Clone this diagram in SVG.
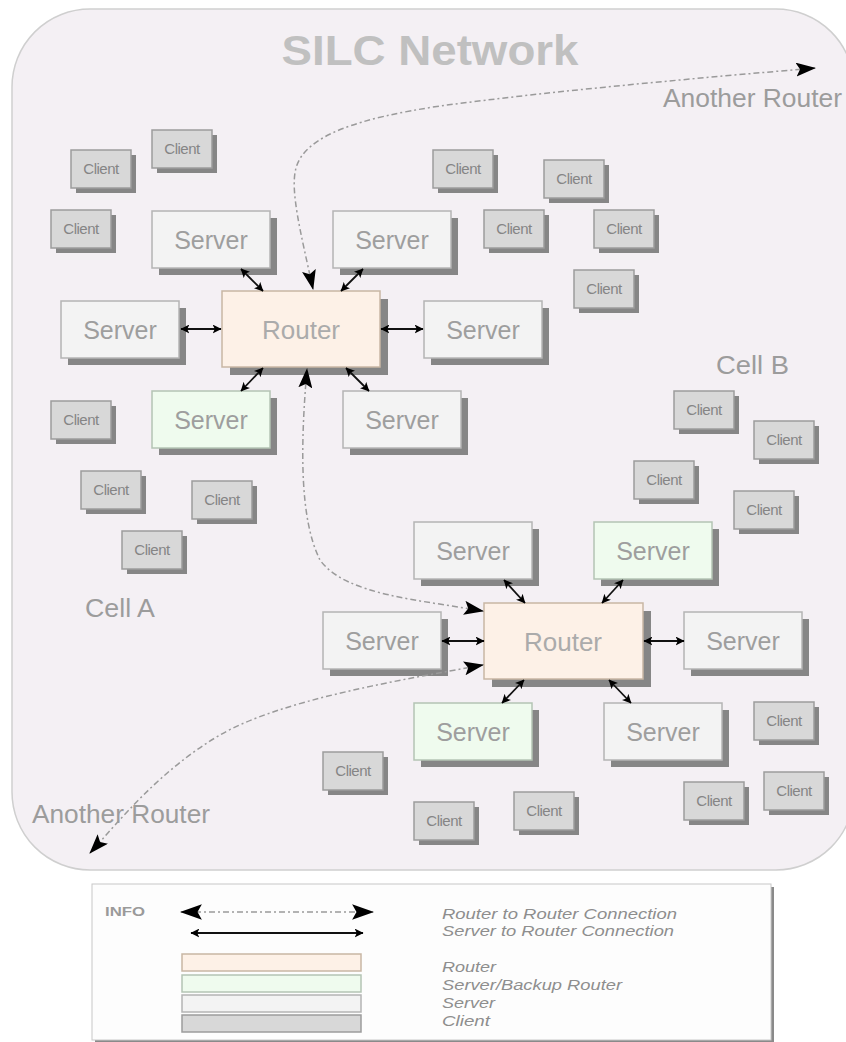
<svg xmlns="http://www.w3.org/2000/svg" width="846" height="1042" viewBox="0 0 846 1042">
<defs>
<style>
text{font-family:"Liberation Sans",Arial,sans-serif}
.sh{fill:#868686}
.srv{fill:#f3f3f3;stroke:#b4b4b4;stroke-width:1.5}
.bak{fill:#effbee;stroke:#b4c4b4;stroke-width:1.5}
.rtr{fill:#fdf1e7;stroke:#c8b6a4;stroke-width:1.5}
.cli{fill:#d8d8d8;stroke:#9c9c9c;stroke-width:1.5}
.ts{font-size:25px;fill:#9e9e9e;text-anchor:middle}
.tr{font-size:26px;fill:#ababab;text-anchor:middle}
.tc{font-size:15px;fill:#858585;text-anchor:middle;letter-spacing:-0.5px}
.lbl{font-size:25px;fill:#9c9c9c}
.rr{fill:none;stroke:#9a9a9a;stroke-width:1.5;stroke-dasharray:6 3 2 3}
.sr{fill:none;stroke:#111;stroke-width:1.8}
.lg{font-size:14px;fill:#8e8e8e;font-style:italic}
</style>
<marker id="big" viewBox="0 0 20 14" refX="19" refY="7" markerWidth="20" markerHeight="14" orient="auto-start-reverse" markerUnits="userSpaceOnUse">
<path d="M0,0 L20,7 L0,14 L4,7 z" fill="#000"/>
</marker>
<marker id="lgbig" viewBox="0 0 20 14" refX="19" refY="7" markerWidth="22" markerHeight="16" orient="auto-start-reverse" markerUnits="userSpaceOnUse">
<path d="M0,0 L20,7 L0,14 L4,7 z" fill="#000"/>
</marker>
<marker id="sm" viewBox="0 0 8 8" refX="7.5" refY="4" markerWidth="9" markerHeight="9" orient="auto-start-reverse" markerUnits="userSpaceOnUse">
<path d="M0,0 L8,4 L0,8 L2,4 z" fill="#000"/>
</marker>
</defs>

<g id="frame">
<rect x="12" y="9" width="842" height="861" rx="78" ry="78" fill="#f4f0f4" stroke="#cfcfcf" stroke-width="1.5"/>
<text x="430" y="65" font-size="43" font-weight="bold" fill="#c0c0c0" text-anchor="middle" textLength="297" lengthAdjust="spacingAndGlyphs">SILC Network</text>
<text class="lbl" x="663" y="107" textLength="179" lengthAdjust="spacingAndGlyphs">Another Router</text>
<text class="lbl" x="32" y="823" textLength="178" lengthAdjust="spacingAndGlyphs">Another Router</text>
<text class="lbl" x="85" y="617" textLength="70" lengthAdjust="spacingAndGlyphs">Cell A</text>
<text class="lbl" x="716" y="374" textLength="73" lengthAdjust="spacingAndGlyphs">Cell B</text>
</g>

<g id="clients">
<g id="c1"><rect class="sh" x="157" y="135" width="60" height="38"/><rect class="cli" x="152" y="130" width="60" height="38"/><text class="tc" x="182" y="154">Client</text></g>
<g id="c2"><rect class="sh" x="76" y="155" width="60" height="38"/><rect class="cli" x="71" y="150" width="60" height="38"/><text class="tc" x="101" y="174">Client</text></g>
<g id="c3"><rect class="sh" x="56" y="215" width="60" height="38"/><rect class="cli" x="51" y="210" width="60" height="38"/><text class="tc" x="81" y="234">Client</text></g>
<g id="c4"><rect class="sh" x="438" y="155" width="60" height="38"/><rect class="cli" x="433" y="150" width="60" height="38"/><text class="tc" x="463" y="174">Client</text></g>
<g id="c5"><rect class="sh" x="549" y="165" width="60" height="38"/><rect class="cli" x="544" y="160" width="60" height="38"/><text class="tc" x="574" y="184">Client</text></g>
<g id="c6"><rect class="sh" x="489" y="215" width="60" height="38"/><rect class="cli" x="484" y="210" width="60" height="38"/><text class="tc" x="514" y="234">Client</text></g>
<g id="c7"><rect class="sh" x="599" y="215" width="60" height="38"/><rect class="cli" x="594" y="210" width="60" height="38"/><text class="tc" x="624" y="234">Client</text></g>
<g id="c8"><rect class="sh" x="579" y="275" width="60" height="38"/><rect class="cli" x="574" y="270" width="60" height="38"/><text class="tc" x="604" y="294">Client</text></g>
<g id="c9"><rect class="sh" x="56" y="406" width="60" height="38"/><rect class="cli" x="51" y="401" width="60" height="38"/><text class="tc" x="81" y="425">Client</text></g>
<g id="c10"><rect class="sh" x="86" y="476" width="60" height="38"/><rect class="cli" x="81" y="471" width="60" height="38"/><text class="tc" x="111" y="495">Client</text></g>
<g id="c11"><rect class="sh" x="197" y="486" width="60" height="38"/><rect class="cli" x="192" y="481" width="60" height="38"/><text class="tc" x="222" y="505">Client</text></g>
<g id="c12"><rect class="sh" x="127" y="536" width="60" height="38"/><rect class="cli" x="122" y="531" width="60" height="38"/><text class="tc" x="152" y="555">Client</text></g>
<g id="c13"><rect class="sh" x="679" y="396" width="60" height="38"/><rect class="cli" x="674" y="391" width="60" height="38"/><text class="tc" x="704" y="415">Client</text></g>
<g id="c14"><rect class="sh" x="759" y="426" width="60" height="38"/><rect class="cli" x="754" y="421" width="60" height="38"/><text class="tc" x="784" y="445">Client</text></g>
<g id="c15"><rect class="sh" x="639" y="466" width="60" height="38"/><rect class="cli" x="634" y="461" width="60" height="38"/><text class="tc" x="664" y="485">Client</text></g>
<g id="c16"><rect class="sh" x="739" y="496" width="60" height="38"/><rect class="cli" x="734" y="491" width="60" height="38"/><text class="tc" x="764" y="515">Client</text></g>
<g id="c17"><rect class="sh" x="759" y="707" width="60" height="38"/><rect class="cli" x="754" y="702" width="60" height="38"/><text class="tc" x="784" y="726">Client</text></g>
<g id="c18"><rect class="sh" x="689" y="787" width="60" height="38"/><rect class="cli" x="684" y="782" width="60" height="38"/><text class="tc" x="714" y="806">Client</text></g>
<g id="c19"><rect class="sh" x="769" y="777" width="60" height="38"/><rect class="cli" x="764" y="772" width="60" height="38"/><text class="tc" x="794" y="796">Client</text></g>
<g id="c20"><rect class="sh" x="519" y="797" width="60" height="38"/><rect class="cli" x="514" y="792" width="60" height="38"/><text class="tc" x="544" y="816">Client</text></g>
<g id="c21"><rect class="sh" x="419" y="807" width="60" height="38"/><rect class="cli" x="414" y="802" width="60" height="38"/><text class="tc" x="444" y="826">Client</text></g>
<g id="c22"><rect class="sh" x="328" y="757" width="60" height="38"/><rect class="cli" x="323" y="752" width="60" height="38"/><text class="tc" x="353" y="776">Client</text></g>
</g>

<g id="servers">
<g id="s1"><rect class="sh" x="159" y="218" width="118" height="57"/><rect class="srv" x="152" y="211" width="118" height="57"/><text class="ts" x="211" y="249">Server</text></g>
<g id="s2"><rect class="sh" x="340" y="218" width="118" height="57"/><rect class="srv" x="333" y="211" width="118" height="57"/><text class="ts" x="392" y="249">Server</text></g>
<g id="s3"><rect class="sh" x="68" y="308" width="118" height="57"/><rect class="srv" x="61" y="301" width="118" height="57"/><text class="ts" x="120" y="339">Server</text></g>
<g id="s4"><rect class="sh" x="431" y="308" width="118" height="57"/><rect class="srv" x="424" y="301" width="118" height="57"/><text class="ts" x="483" y="339">Server</text></g>
<g id="s5"><rect class="sh" x="159" y="398" width="118" height="57"/><rect class="bak" x="152" y="391" width="118" height="57"/><text class="ts" x="211" y="429">Server</text></g>
<g id="s6"><rect class="sh" x="350" y="398" width="118" height="57"/><rect class="srv" x="343" y="391" width="118" height="57"/><text class="ts" x="402" y="429">Server</text></g>
<g id="s7"><rect class="sh" x="421" y="529" width="118" height="57"/><rect class="srv" x="414" y="522" width="118" height="57"/><text class="ts" x="473" y="560">Server</text></g>
<g id="s8"><rect class="sh" x="601" y="529" width="118" height="57"/><rect class="bak" x="594" y="522" width="118" height="57"/><text class="ts" x="653" y="560">Server</text></g>
<g id="s9"><rect class="sh" x="330" y="619" width="118" height="57"/><rect class="srv" x="323" y="612" width="118" height="57"/><text class="ts" x="382" y="650">Server</text></g>
<g id="s10"><rect class="sh" x="691" y="619" width="118" height="57"/><rect class="srv" x="684" y="612" width="118" height="57"/><text class="ts" x="743" y="650">Server</text></g>
<g id="s11"><rect class="sh" x="421" y="710" width="118" height="57"/><rect class="bak" x="414" y="703" width="118" height="57"/><text class="ts" x="473" y="741">Server</text></g>
<g id="s12"><rect class="sh" x="611" y="710" width="118" height="57"/><rect class="srv" x="604" y="703" width="118" height="57"/><text class="ts" x="663" y="741">Server</text></g>
</g>

<g id="router1"><rect class="sh" x="230" y="299" width="158" height="76"/><rect class="rtr" x="222" y="291" width="158" height="76"/><text class="tr" x="301" y="339">Router</text></g>
<g id="router2"><rect class="sh" x="492" y="611" width="159" height="76"/><rect class="rtr" x="484" y="603" width="159" height="76"/><text class="tr" x="563" y="651">Router</text></g>

<g id="connectors">
<path class="rr" d="M815,68 C700,78 560,90 440,106 C360,118 305,135 296,168 C290,190 300,230 313,289" marker-start="url(#big)" marker-end="url(#big)"/>
<path class="rr" d="M307,369 C300,450 300,520 320,560 C345,595 420,600 483,611" marker-start="url(#big)" marker-end="url(#big)"/>
<path class="rr" d="M483,665 C400,680 280,700 220,735 C160,770 120,820 90,853" marker-start="url(#big)" marker-end="url(#big)"/>
<path class="sr" d="M241,269 L263,291" marker-start="url(#sm)" marker-end="url(#sm)"/>
<path class="sr" d="M363,269 L341,291" marker-start="url(#sm)" marker-end="url(#sm)"/>
<path class="sr" d="M181,329 L221,329" marker-start="url(#sm)" marker-end="url(#sm)"/>
<path class="sr" d="M381,329 L423,329" marker-start="url(#sm)" marker-end="url(#sm)"/>
<path class="sr" d="M263,368 L241,391" marker-start="url(#sm)" marker-end="url(#sm)"/>
<path class="sr" d="M346,368 L369,391" marker-start="url(#sm)" marker-end="url(#sm)"/>
<path class="sr" d="M504,580 L525,603" marker-start="url(#sm)" marker-end="url(#sm)"/>
<path class="sr" d="M623,580 L602,603" marker-start="url(#sm)" marker-end="url(#sm)"/>
<path class="sr" d="M442,641 L484,641" marker-start="url(#sm)" marker-end="url(#sm)"/>
<path class="sr" d="M644,641 L684,641" marker-start="url(#sm)" marker-end="url(#sm)"/>
<path class="sr" d="M524,680 L502,703" marker-start="url(#sm)" marker-end="url(#sm)"/>
<path class="sr" d="M609,680 L631,703" marker-start="url(#sm)" marker-end="url(#sm)"/>
</g>

<g id="legend">
<rect x="95" y="887" width="679" height="155" fill="#8a8a8a"/>
<rect x="92" y="884" width="679" height="156" fill="#fdfdfd" stroke="#c8c8c8" stroke-width="1"/>
<text x="105" y="916" font-size="13" font-weight="bold" fill="#9a9a9a" textLength="40" lengthAdjust="spacingAndGlyphs">INFO</text>
<path class="rr" d="M181,912 L373,912" marker-start="url(#lgbig)" marker-end="url(#lgbig)"/>
<path class="sr" d="M191,933 L363,933" marker-start="url(#sm)" marker-end="url(#sm)"/>
<rect class="rtr" x="182" y="954" width="179" height="17"/>
<rect class="bak" x="182" y="975" width="179" height="17"/>
<rect class="srv" x="182" y="995" width="179" height="17"/>
<rect class="cli" x="182" y="1015" width="179" height="17"/>
<text class="lg" x="442" y="919" textLength="235" lengthAdjust="spacingAndGlyphs">Router to Router Connection</text>
<text class="lg" x="442" y="936" textLength="232" lengthAdjust="spacingAndGlyphs">Server to Router Connection</text>
<text class="lg" x="442" y="972" textLength="54" lengthAdjust="spacingAndGlyphs">Router</text>
<text class="lg" x="442" y="990" textLength="180" lengthAdjust="spacingAndGlyphs">Server/Backup Router</text>
<text class="lg" x="442" y="1008" textLength="53" lengthAdjust="spacingAndGlyphs">Server</text>
<text class="lg" x="442" y="1026" textLength="48" lengthAdjust="spacingAndGlyphs">Client</text>
</g>
</svg>
